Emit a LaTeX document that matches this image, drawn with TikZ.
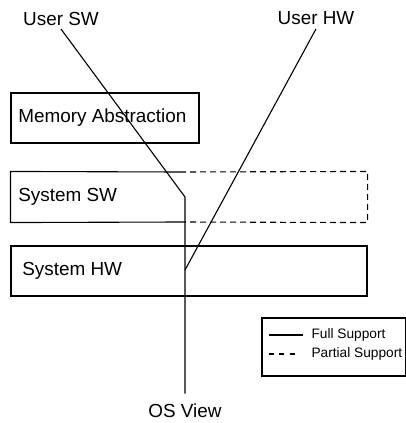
\documentclass[tikz,border=0pt]{standalone}
\usepackage{fontspec}
\setmainfont{Liberation Sans}
\begin{document}
\begin{tikzpicture}[x=1pt,y=-1pt,
  line width=1.1pt,
  box/.style={draw, rectangle, inner sep=0pt},
  lbl/.style={font=\fontsize{18.9}{22}\selectfont, inner sep=3.3pt},
  small/.style={font=\fontsize{13.7}{16}\selectfont, inner sep=0pt, anchor=west},
  partial/.style={dash pattern=on 6pt off 4pt},
  legdash/.style={dash pattern=on 5pt off 5.7pt}]
\useasboundingbox (0,0) rectangle (406,423);

% layer boxes
\node[box, minimum width=188pt, minimum height=50pt] (mem) at (105,118) {};
\node[lbl, anchor=west] (memtxt) at ([xshift=4pt]mem.west) {Memory Abstraction};

\node[inner sep=0pt, minimum width=356pt, minimum height=50pt] (sw) at (189,197) {};
\coordinate (swsplit top) at (180,172);
\coordinate (swsplit bot) at (180,222);
\draw (swsplit top) -- (sw.north west) -- (sw.south west) -- (swsplit bot);
\draw[partial] (swsplit top) -- (sw.north east) -- (sw.south east) -- (swsplit bot);
\node[lbl, anchor=west] (swtxt) at ([xshift=4pt]sw.west) {System SW};

\node[box, minimum width=356pt, minimum height=50pt] (hw) at (189,271) {};
\node[lbl, anchor=west] (hwtxt) at ([xshift=8pt]hw.west) {System HW};

% view labels
\node[lbl] (usw) at (61,18.5) {User SW};
\node[lbl] (uhw) at (316,18.5) {User HW};
\node[lbl] (osv) at (185,411) {OS View};

\coordinate (kink) at (185,197);
\coordinate (hwjoin) at (185,270);

% views
\draw (usw.south) -- (kink) -- ([yshift=6.5pt]osv.north);
\draw (uhw.south) -- (hwjoin);

% legend
\node[box, minimum width=143.5pt, minimum height=58pt] (leg) at (333.75,347) {};
\coordinate (fullA) at (269,335);
\coordinate (fullB) at (303,335);
\coordinate (partA) at (268.5,354);
\coordinate (partB) at (300,354);
\draw (fullA) -- (fullB);
\draw[legdash] (partA) -- (partB);
\node[small] (fulltxt) at (311,335) {Full Support};
\node[small] (parttxt) at (311,353.5) {Partial Support};
\end{tikzpicture}
\end{document}
